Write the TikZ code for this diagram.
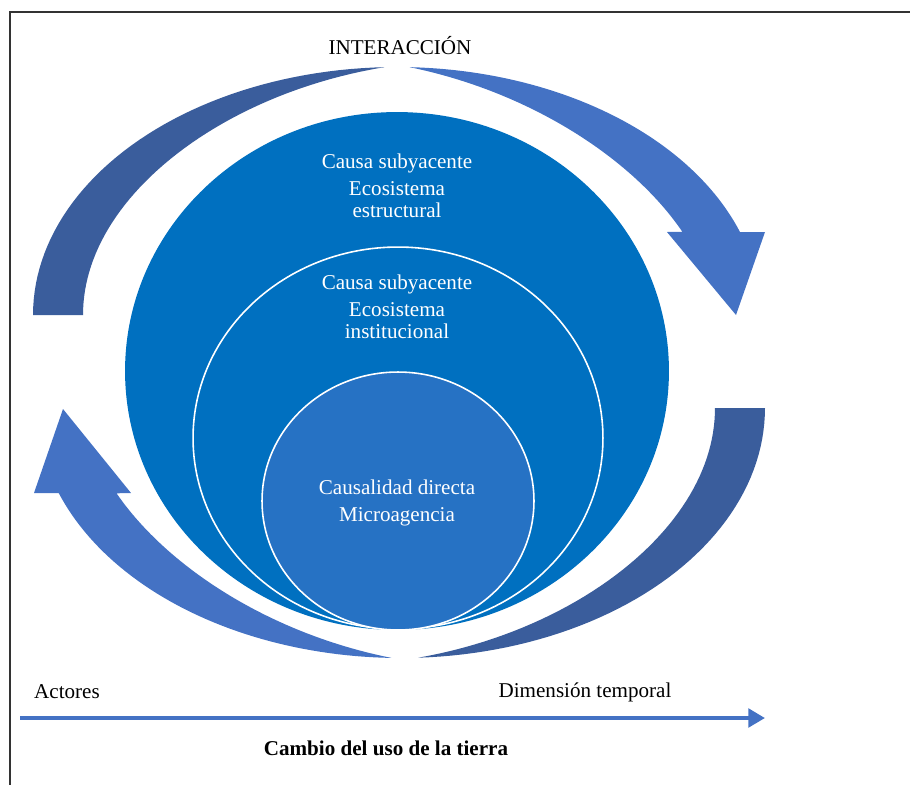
\documentclass[tikz,border=0pt]{standalone}
\usepackage{fontspec}
\setmainfont{Liberation Serif}
\usetikzlibrary{shapes.geometric,arrows.meta}
\definecolor{azulfondo}{HTML}{0070C0}
\definecolor{azulcentro}{HTML}{2672C4}
\definecolor{flechaclara}{HTML}{4472C4}
\definecolor{flechaoscura}{HTML}{3A5D9C}
\tikzset{>=latex,
  circulo/.style={ellipse,inner sep=0pt,draw=white,line width=0.9pt},
  rotulo/.style={text=white,align=center,font=\fontsize{12}{12.5}\selectfont},
  texto/.style={font=\fontsize{12}{14}\selectfont}}

\begin{document}
\begin{tikzpicture}[x=0.02cm,y=-0.02cm]
            \draw[draw=none,use as bounding box] (0,0) rectangle (910,785);
            \draw[line width=0.6pt,black!80] (910,12) -- (10,12) -- (10,785);
            % anillo de flechas
            \fill[flechaoscura] plot[domain=180:92,samples=50] ({397+364*cos(\x)},{315-248*sin(\x)})
                -- plot[domain=92:180,samples=50] ({397+(364-50*sin(90*(\x-92)/88))*cos(\x)},{315-(248-50*sin(90*(\x-92)/88))*sin(\x)}) -- cycle;
            \fill[flechaclara] plot[domain=88:19.5,samples=50] ({397+364*cos(\x)},{315-248*sin(\x)})
                -- (765,232) -- (736,315) -- (667,232)
                -- plot[domain=24.8:88,samples=50] ({397+(364-50*sin(90*(88-\x)/68.5))*cos(\x)},{315-(248-50*sin(90*(88-\x)/68.5))*sin(\x)}) -- cycle;
            \fill[flechaoscura] plot[domain=0:-87.3,samples=50] ({401+364*cos(\x)},{408-250*sin(\x)})
                -- plot[domain=-87.3:0,samples=50] ({401+(364-50*sin(90*(\x+87.3)/87.3))*cos(\x)},{408-(250-50*sin(90*(\x+87.3)/87.3))*sin(\x)}) -- cycle;
            \fill[flechaclara] plot[domain=268.5:199.9,samples=50] ({401+364*cos(\x)},{408-250*sin(\x)})
                -- (34,493) -- (63,409) -- (131,493)
                -- plot[domain=205.2:268.5,samples=50] ({401+(364-50*sin(90*(268.5-\x)/68.6))*cos(\x)},{408-(250-50*sin(90*(268.5-\x)/68.6))*sin(\x)}) -- cycle;
            % circulos
            \node[circulo,draw=none,fill=azulfondo,minimum width=10.88cm,minimum height=10.36cm] (exterior) at (397,371) {};
            \node[circulo,fill=azulfondo,minimum width=8.2cm,minimum height=7.64cm] (medio) at (398,438) {};
            \node[circulo,fill=azulcentro,minimum width=5.44cm,minimum height=5.16cm] (centro) at (398,501) {};
            \node[rotulo] (estructural) at (397,186) {Causa subyacente\\[3pt]Ecosistema\\estructural};
            \node[rotulo] (institucional) at (397,307) {Causa subyacente\\[3pt]Ecosistema\\institucional};
            \node[rotulo] (micro) at (397,503) {Causalidad directa\\[3pt]Microagencia};
            % textos y eje
            \node[texto] (interaccion) at (400,46) {INTERACCIÓN};
            \node[texto] (actores) at (67,692) {Actores};
            \node[texto] (temporal) at (585,692) {Dimensión temporal};
            \node[texto,font=\fontsize{12}{14}\selectfont\bfseries] (cambio) at (386,748) {Cambio del uso de la tierra};
            \coordinate (inicio) at (20,718);
            \coordinate (fin) at (765,718);
            \draw[flechaclara,line width=2.3pt,-{Triangle[length=9.5pt,width=10.5pt]}] (inicio) -- (fin);
        \end{tikzpicture}
\end{document}
